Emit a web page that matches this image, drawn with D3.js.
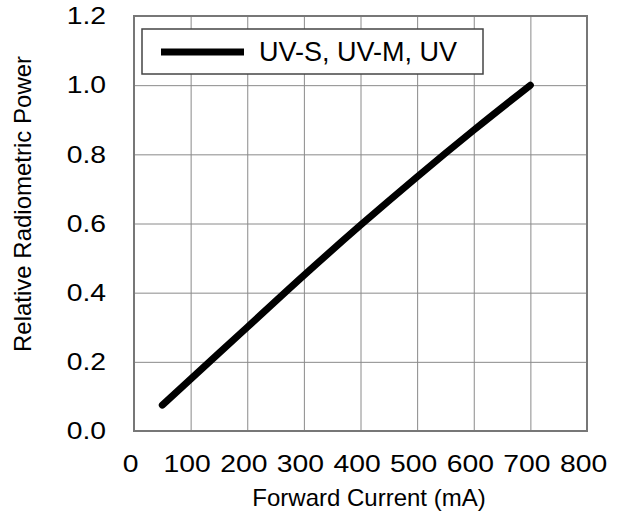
<!DOCTYPE html>
<html>
<head>
<meta charset="utf-8">
<script src="https://cdn.jsdelivr.net/npm/d3@7"></script>
<style>
  body { margin: 0; background: #fff; }
  text { font-family: "Liberation Sans", Arial, sans-serif; fill: #000; }
</style>
</head>
<body>
<script>
// data
var current = [50, 100, 200, 300, 400, 500, 600, 700];
var power = [0.075, 0.15, 0.30, 0.45, 0.595, 0.735, 0.87, 1.0];
var xTicks = [0, 100, 200, 300, 400, 500, 600, 700, 800];
var yTicks = [0.0, 0.2, 0.4, 0.6, 0.8, 1.0, 1.2];
var seriesName = "UV-S, UV-M, UV";

var width = 618, height = 525;
var margin = {left: 134, right: 31, top: 16, bottom: 94};
var w = width - margin.left - margin.right;
var h = height - margin.top - margin.bottom;

var svg = d3.select("body").append("svg")
    .attr("width", width)
    .attr("height", height);

var x = d3.scaleLinear().domain([0, 800]).range([0, w]);
var y = d3.scaleLinear().domain([0, 1.2]).range([h, 0]);

var chart = svg.append("g")
    .attr("transform", "translate(" + margin.left + "," + margin.top + ")");

// grid
chart.append("g")
    .attr("transform", "translate(0," + h + ")")
    .call(d3.axisBottom(x).tickValues(xTicks).tickSize(-h).tickFormat(""));
chart.append("g")
    .call(d3.axisLeft(y).tickValues(yTicks).tickSize(-w).tickFormat(""));
chart.selectAll(".domain").remove();
chart.selectAll(".tick line").attr("stroke", "#8a8a8a").attr("stroke-width", 1);

// frame
chart.append("rect")
    .attr("width", w).attr("height", h)
    .attr("fill", "none")
    .attr("stroke", "#777")
    .attr("stroke-width", 2);

// tick labels (digits in the original are a bit wider than Arial)
function widen(sel) {
  sel.each(function() {
    var l = this.getComputedTextLength();
    d3.select(this).attr("textLength", l * 1.18).attr("lengthAdjust", "spacingAndGlyphs");
  });
}

var xAxis = chart.append("g")
    .attr("transform", "translate(-4," + h + ")")
    .call(d3.axisBottom(x).tickValues(xTicks).tickSize(0).tickPadding(24)
      .tickFormat(d3.format("d")));
xAxis.select(".domain").remove();
xAxis.selectAll("text").attr("font-size", "24px").attr("font-family", null).call(widen);

var yAxis = chart.append("g")
    .call(d3.axisLeft(y).tickValues(yTicks).tickSize(0).tickPadding(28)
      .tickFormat(d3.format(".1f")));
yAxis.select(".domain").remove();
yAxis.selectAll("text").attr("font-size", "24px").attr("font-family", null).call(widen);

// line
var line = d3.line()
    .curve(d3.curveMonotoneX)
    .x(function(d, i) { return x(current[i]); })
    .y(function(d) { return y(d); });

chart.append("path")
    .datum(power)
    .attr("d", line)
    .attr("fill", "none")
    .attr("stroke", "#000")
    .attr("stroke-width", 7)
    .attr("stroke-linecap", "round")
    .attr("stroke-linejoin", "round");

// legend
var legend = svg.append("g").attr("transform", "translate(142,29)");
legend.append("rect")
    .attr("width", 341).attr("height", 45)
    .attr("fill", "#fff")
    .attr("stroke", "#444")
    .attr("stroke-width", 1.5);
legend.append("line")
    .attr("x1", 19).attr("x2", 102)
    .attr("y1", 23).attr("y2", 23)
    .attr("stroke", "#000")
    .attr("stroke-width", 7);
legend.append("text")
    .attr("x", 117).attr("y", 32)
    .attr("font-size", "27px")
    .text(seriesName);

// axis titles
svg.append("text")
    .attr("x", 369).attr("y", 506)
    .attr("text-anchor", "middle")
    .attr("font-size", "24px")
    .text("Forward Current (mA)");

svg.append("text")
    .attr("transform", "translate(31,204) rotate(-90)")
    .attr("text-anchor", "middle")
    .attr("font-size", "24px")
    .text("Relative Radiometric Power");
</script>
</body>
</html>
